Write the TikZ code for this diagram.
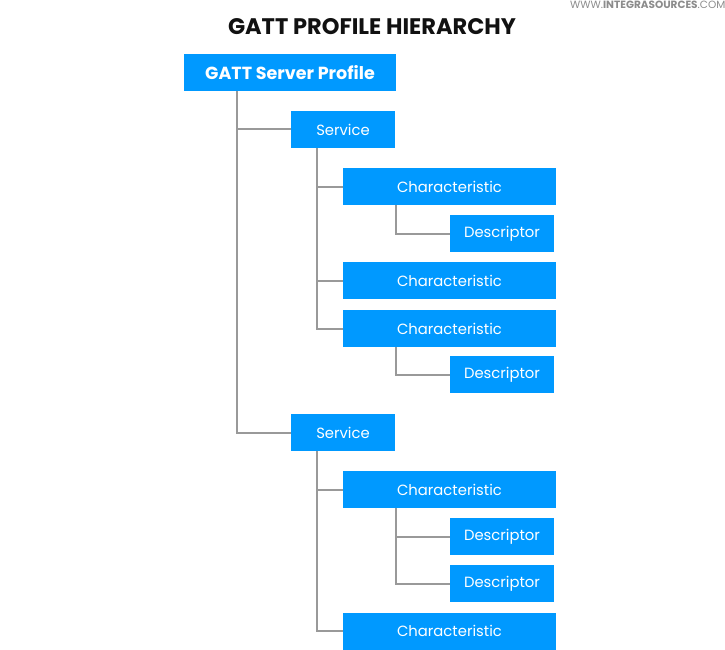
\documentclass[tikz,border=0pt]{standalone}
\usepackage{fontspec}
\setmainfont{Poppins}
\definecolor{boxblue}{HTML}{0099FF}
\definecolor{linegray}{HTML}{999999}
\definecolor{wmgray}{HTML}{8C8C8C}
\definecolor{titleblack}{HTML}{111111}
\begin{document}
\begin{tikzpicture}[x=1pt,y=-1pt,
  box/.style={fill=boxblue,text=white,minimum height=37pt,inner sep=0pt,anchor=center,font=\fontsize{14.8}{17}\selectfont},
  rootbox/.style={box,minimum width=212pt,font=\fontsize{17.5}{20}\selectfont\bfseries},
  svcbox/.style={box,minimum width=104pt},
  charbox/.style={box,minimum width=213pt},
  descbox/.style={box,minimum width=104pt},
  conn/.style={draw=linegray,line width=2pt}]
\useasboundingbox (0,0) rectangle (725,650);
\node[anchor=north east,text=wmgray,inner sep=0pt,font=\fontsize{10.5}{12}\selectfont] (wm) at (725.5,0.5) {WWW.\textbf{INTEGRASOURCES}.COM};
\node[text=titleblack,font=\fontsize{22.5}{25}\selectfont\bfseries,inner sep=0pt] (title) at (372,27) {GATT PROFILE HIERARCHY};
\node[rootbox] (root) at (290,72.5) {GATT Server Profile};
\node[svcbox] (s1) at (343,129.5) {Service};
\node[charbox] (c1) at (449.5,186.5) {Characteristic};
\node[descbox] (d1) at (502,233.5) {Descriptor};
\node[charbox] (c2) at (449.5,280.5) {Characteristic};
\node[charbox] (c3) at (449.5,328.5) {Characteristic};
\node[descbox] (d2) at (502,374.5) {Descriptor};
\node[svcbox] (s2) at (343,432.5) {Service};
\node[charbox] (c4) at (449.5,489.5) {Characteristic};
\node[descbox] (d3) at (502,536.5) {Descriptor};
\node[descbox] (d4) at (502,583.5) {Descriptor};
\node[charbox] (c5) at (449.5,631) {Characteristic};
\coordinate (t0) at (237,0);
\draw[conn] (root.south -| t0) |- (s1.west);
\draw[conn] (root.south -| t0) |- (s2.west);
\draw[conn] ([xshift=26pt]s1.south west) |- (c1.west);
\draw[conn] ([xshift=26pt]s1.south west) |- (c2.west);
\draw[conn] ([xshift=26pt]s1.south west) |- (c3.west);
\draw[conn] ([xshift=53pt]c1.south west) |- (d1.west);
\draw[conn] ([xshift=53pt]c3.south west) |- (d2.west);
\draw[conn] ([xshift=26pt]s2.south west) |- (c4.west);
\draw[conn] ([xshift=26pt]s2.south west) |- (c5.west);
\draw[conn] ([xshift=53pt]c4.south west) |- (d3.west);
\draw[conn] ([xshift=53pt]c4.south west) |- (d4.west);
\end{tikzpicture}
\end{document}
